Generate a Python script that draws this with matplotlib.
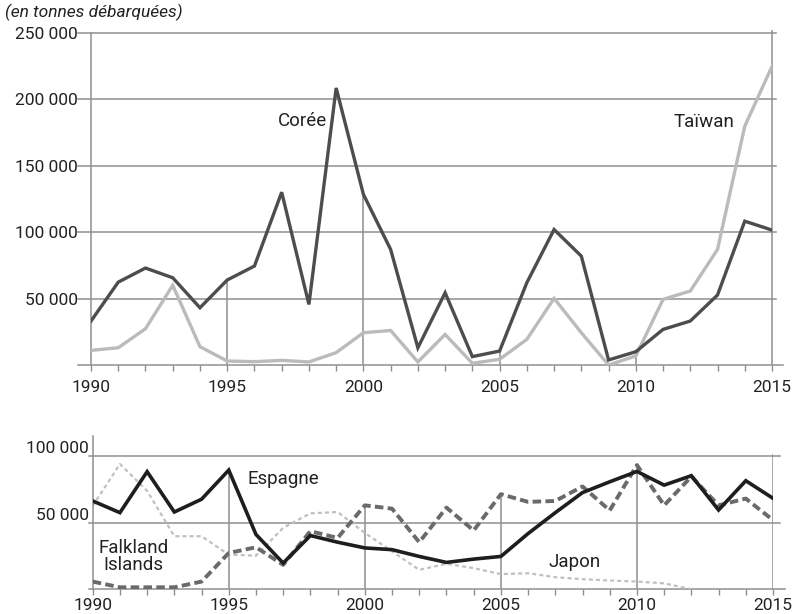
import matplotlib
matplotlib.use("Agg")
import matplotlib.pyplot as plt
import numpy as np

plt.rcParams['font.family'] = ['Roboto', 'DejaVu Sans']

years = list(range(1990, 2016))

# top chart (en tonnes)
coree = [33100, 62400, 73000, 65700, 43100, 64000, 74500, 130100, 45600, 208600,
         128500, 87000, 13000, 54400, 6300, 10500, 62000, 102000, 82000, 3800,
         10000, 26800, 33100, 52700, 108300, 101600]
taiwan = [11000, 13000, 27300, 60000, 13800, 3000, 2500, 3500, 2300, 9300,
          24300, 26000, 2300, 23000, 1300, 4300, 19300, 50200, 24300, 0,
          6800, 49400, 55700, 87000, 179800, 224900]

# bottom chart
espagne = [66400, 57600, 88400, 58100, 67700, 89600, 41200, 19700, 40400, 35400,
           31100, 29800, 24700, 20200, 22700, 24700, 41900, 57600, 72700, 80800,
           88600, 78300, 85400, 59600, 81600, 68400]
falkland = [5800, 1500, 1500, 1500, 5800, 27300, 31600, 18400, 43700, 38600,
            63100, 60600, 35400, 61400, 44200, 71500, 65700, 66400, 77300, 59300,
            93400, 63100, 84800, 63100, 68200, 52000]
japon_years = list(range(1990, 2013))
japon = [62600, 94200, 74000, 39900, 39900, 26000, 25300, 46200, 57100, 58100,
         42400, 28500, 14600, 19200, 15900, 11400, 12100, 9100, 7600, 6600,
         5800, 4500, 0]

top_ticks = [50000, 100000, 150000, 200000, 250000]
bot_ticks = [50000, 100000]
year_labels = [1990, 1995, 2000, 2005, 2010, 2015]

grid_col = "#8f8f8f"
txt_col = "#222222"

def fmt(v):
    return "{:,}".format(v).replace(",", " ")

fig = plt.figure(figsize=(8.01, 6.14), dpi=100)

# ---- top chart
ax1 = fig.add_axes([91/801, (614-365)/614, 681/801, 332/614])
ax1.set_xlim(1990, 2015)
ax1.set_ylim(0, 250000)
for t in top_ticks:
    ax1.axhline(t, xmin=-0.019, xmax=1.006, color=grid_col, lw=1.1, clip_on=False, zorder=1)
ax1.axhline(0, xmin=-0.019, xmax=1.016, color=grid_col, lw=1.1, clip_on=False, zorder=1)
for yr in [1995, 2000, 2005, 2010]:
    i = years.index(yr)
    ax1.vlines(yr, 0, max(coree[i], taiwan[i]), color=grid_col, lw=1.1, zorder=1)
ax1.vlines(2015, 0, 252500, color=grid_col, lw=1.1, zorder=1, clip_on=False)
ax1.plot(years, taiwan, color="#bbbbbb", lw=2.4, zorder=3, solid_joinstyle="miter")
ax1.plot(years, coree, color="#4d4d4d", lw=2.4, zorder=4, solid_joinstyle="miter")
for s in ["top", "right", "bottom"]:
    ax1.spines[s].set_visible(False)
ax1.spines["left"].set_color(grid_col)
ax1.spines["left"].set_linewidth(1.1)
ax1.set_yticks(top_ticks)
ax1.set_yticklabels([fmt(t) for t in top_ticks])
ax1.tick_params(axis="y", length=0, pad=9.5, labelsize=12.5, labelcolor=txt_col)
ax1.set_xticks(years, minor=True)
ax1.set_xticks(year_labels)
ax1.set_xticklabels([str(y) for y in year_labels])
ax1.tick_params(axis="x", which="both", direction="out", length=4, width=1, color=grid_col)
ax1.tick_params(axis="x", which="major", pad=7, labelsize=12.5, labelcolor=txt_col)
ax1.text(1997.75, 184000, "Corée", fontsize=13.5, color=txt_col, ha="center", va="center")
ax1.text(2012.5, 183000, "Taïwan", fontsize=13.5, color=txt_col, ha="center", va="center")
fig.text(5/801, 1 - 12/614, "(en tonnes débarquées)", fontsize=12.5, style="italic",
         color=txt_col, ha="left", va="center")

# ---- bottom chart
ax2 = fig.add_axes([92.7/801, (614-589.3)/614, 680.3/801, 153/614])
ax2.set_xlim(1990, 2015)
ax2.set_ylim(0, 115000)
for t in bot_ticks:
    ax2.axhline(t, xmin=-0.006, xmax=1.01, color=grid_col, lw=1.1, clip_on=False, zorder=1)
ax2.axhline(0, xmin=-0.006, xmax=1.017, color=grid_col, lw=1.1, clip_on=False, zorder=1)
for yr in [1995, 2000, 2005, 2010]:
    i = years.index(yr)
    ax2.vlines(yr, 0, max(espagne[i], falkland[i]), color=grid_col, lw=1.1, zorder=1)
ax2.vlines(2015, 0, 102000, color=grid_col, lw=1.1, zorder=1)
ax2.plot(japon_years, japon, color="#c0c0c0", lw=1.6, ls=(0, (1.8, 1.4)), zorder=2)
ax2.plot(years, falkland, color="#6a6a6a", lw=2.8, ls=(0, (2.2, 1.1)), zorder=3)
ax2.plot(years, espagne, color="#1e1e1e", lw=2.6, zorder=4, solid_joinstyle="miter")
for s in ["top", "right", "bottom"]:
    ax2.spines[s].set_visible(False)
ax2.spines["left"].set_color(grid_col)
ax2.spines["left"].set_linewidth(1.1)
ax2.set_yticks(bot_ticks)
ax2.set_yticklabels([fmt(t) for t in bot_ticks], va="bottom")
ax2.tick_params(axis="y", length=0, pad=3, labelsize=12.5, labelcolor=txt_col)
ax2.set_xticks(years, minor=True)
ax2.set_xticks(year_labels)
ax2.set_xticklabels([str(y) for y in year_labels])
ax2.tick_params(axis="x", which="both", direction="out", length=4, width=1, color=grid_col)
ax2.tick_params(axis="x", which="major", pad=2, labelsize=12.5, labelcolor=txt_col)
ax2.text(1995.7, 83000, "Espagne", fontsize=13.5, color=txt_col, ha="left", va="center")
ax2.text(1991.5, 24500, "Falkland\nIslands", fontsize=13.5, color=txt_col, ha="center",
         va="center", linespacing=0.9)
ax2.text(2007.7, 20500, "Japon", fontsize=13.5, color=txt_col, ha="center", va="center")

fig.savefig("out.png", dpi=100)
